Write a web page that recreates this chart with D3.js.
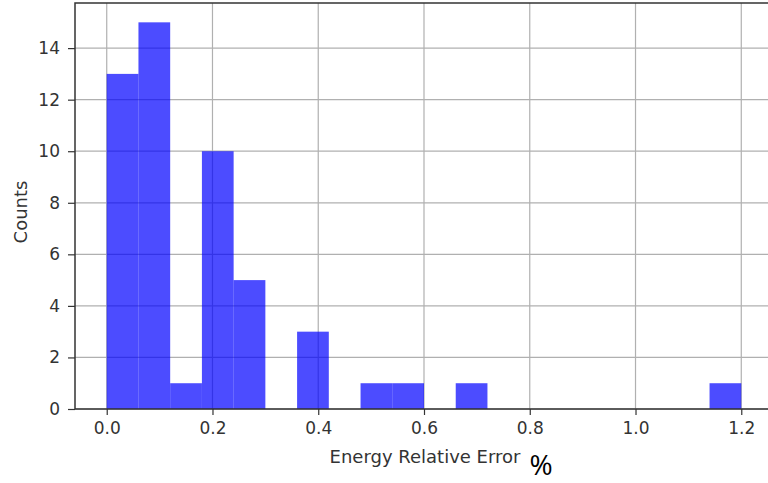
<!DOCTYPE html>
<html>
<head>
<meta charset="utf-8">
<script src="https://cdn.jsdelivr.net/npm/d3@7"></script>
<style>
body { margin: 0; background: #fff; }
text { font-family: "DejaVu Sans", sans-serif; fill: #333; }
</style>
</head>
<body>
<script>
var w = 768, h = 483;
var margin = {"left": 75, "right": -5, "top": 3, "bottom": 74};

// histogram bins (left edges) and counts
var binEdges = [0.00, 0.06, 0.12, 0.18, 0.24, 0.30, 0.36, 0.42, 0.48, 0.54,
                0.60, 0.66, 0.72, 0.78, 0.84, 0.90, 0.96, 1.02, 1.08, 1.14, 1.20];
var counts = [13, 15, 1, 10, 5, 0, 3, 0, 1, 1, 0, 1, 0, 0, 0, 0, 0, 0, 0, 1];
var xTicks = [0.0, 0.2, 0.4, 0.6, 0.8, 1.0, 1.2];
var yTicks = [0, 2, 4, 6, 8, 10, 12, 14];

var bins = counts.map(function(c, i){
    return {x0: binEdges[i], x1: binEdges[i+1], count: c};
});

var svg = d3.select("body").append("svg")
    .attr("width", w).attr("height", h);

var xScale = d3.scaleLinear()
    .domain([-0.06, 1.26])
    .range([margin.left, w - margin.right]);
var yScale = d3.scaleLinear()
    .domain([0, 15.75])
    .range([h - margin.bottom, margin.top]);

// grid
svg.append("g").selectAll("line").data(xTicks).enter().append("line")
    .attr("x1", function(d){ return xScale(d); })
    .attr("x2", function(d){ return xScale(d); })
    .attr("y1", yScale(0)).attr("y2", yScale(15.75))
    .attr("stroke", "#b0b0b0").attr("stroke-width", 1.2);
svg.append("g").selectAll("line").data(yTicks).enter().append("line")
    .attr("y1", function(d){ return yScale(d); })
    .attr("y2", function(d){ return yScale(d); })
    .attr("x1", xScale(-0.06)).attr("x2", xScale(1.26))
    .attr("stroke", "#b0b0b0").attr("stroke-width", 1.2);

// bars
svg.append("g").selectAll("rect").data(bins.filter(function(d){ return d.count > 0; }))
    .enter().append("rect")
    .attr("x", function(d){ return xScale(d.x0); })
    .attr("width", function(d){ return xScale(d.x1) - xScale(d.x0); })
    .attr("y", function(d){ return yScale(d.count); })
    .attr("height", function(d){ return yScale(0) - yScale(d.count); })
    .attr("fill", "#0000ff").attr("fill-opacity", 0.7);

// axes
var xAxis = d3.axisBottom(xScale).tickValues(xTicks)
    .tickFormat(d3.format(".1f")).tickSize(6).tickPadding(7);
var yAxis = d3.axisLeft(yScale).tickValues(yTicks)
    .tickFormat(d3.format("d")).tickSize(7).tickPadding(8);

var gx = svg.append("g")
    .attr("transform", "translate(0," + yScale(0) + ")")
    .call(xAxis);
var gy = svg.append("g")
    .attr("transform", "translate(" + margin.left + ",0)")
    .call(yAxis);
[gx, gy].forEach(function(g){
    g.select(".domain").remove();
    g.selectAll(".tick line").attr("stroke", "#333").attr("stroke-width", 1.2);
    g.selectAll(".tick text").style("font-size", "17px").attr("fill", "#333");
});

// spines
svg.append("rect")
    .attr("x", xScale(-0.06)).attr("y", yScale(15.75))
    .attr("width", xScale(1.26) - xScale(-0.06))
    .attr("height", yScale(0) - yScale(15.75))
    .attr("fill", "none").attr("stroke", "#333").attr("stroke-width", 1.5);

// labels
svg.append("text")
    .attr("x", xScale(0.6) + 1).attr("y", 463)
    .attr("text-anchor", "middle")
    .style("font-size", "18px")
    .text("Energy Relative Error");
svg.append("text")
    .attr("transform", "translate(27,212) rotate(-90)")
    .attr("text-anchor", "middle")
    .style("font-size", "18px")
    .text("Counts");
svg.append("text")
    .attr("x", 541).attr("y", 475)
    .attr("text-anchor", "middle")
    .style("font-family", "'Open Sans', sans-serif")
    .style("font-size", "28px")
    .style("fill", "#000")
    .text("%");
</script>
</body>
</html>
